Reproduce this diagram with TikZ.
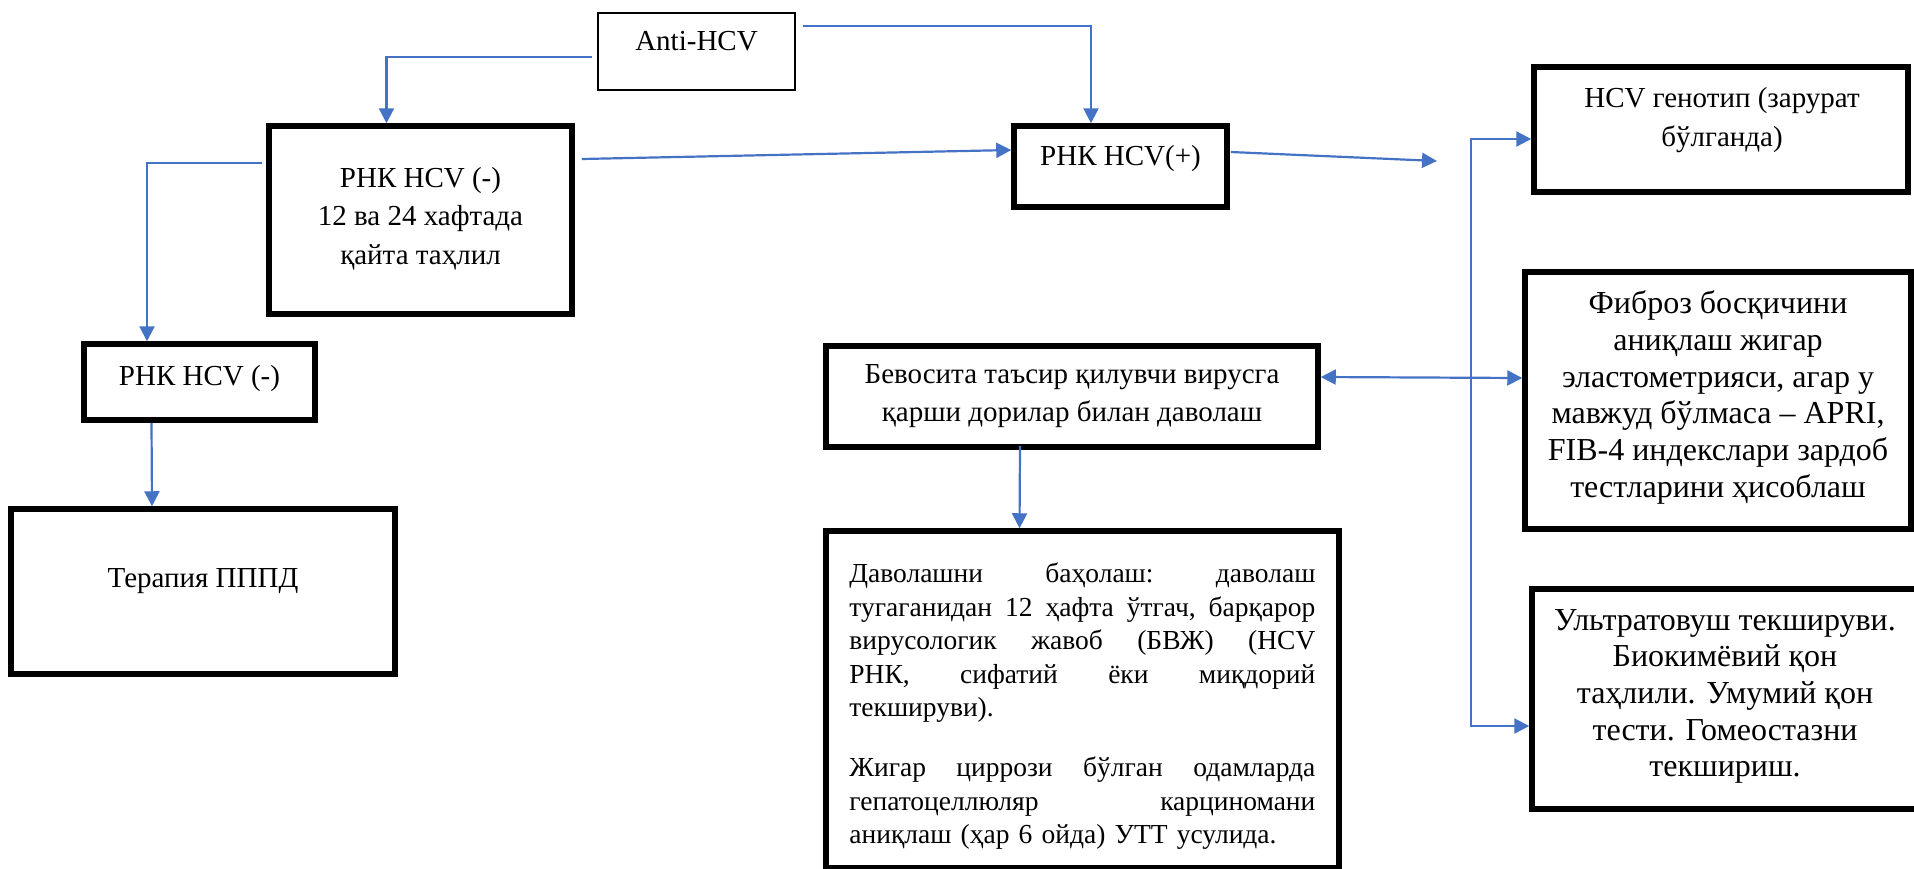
\documentclass[tikz,border=0pt]{standalone}
\usepackage{fontspec}
\setmainfont{Liberation Serif}
\usetikzlibrary{arrows.meta,calc}
\definecolor{conblue}{HTML}{4472C4}
\tikzset{
  box/.style={draw=black, line width=2.75pt, rectangle, inner sep=0pt},
  thinbox/.style={draw=black, line width=1.3pt, rectangle, inner sep=0pt},
  conn/.style={draw=conblue, line width=1.1pt, -{Triangle[length=7.5pt,width=7.5pt]}},
  dconn/.style={draw=conblue, line width=1.1pt, {Triangle[length=7.5pt,width=7.5pt]}-{Triangle[length=7.5pt,width=7.5pt]}},
  lbl/.style={font=\fontsize{14.5}{19.25}\selectfont, align=center, inner sep=0pt},
  rlbl/.style={font=\fontsize{16}{18.35}\selectfont, align=center, inner sep=0pt},
}
\newcommand\jl[1]{\par\noindent\hbox to 233pt{#1}}
\newcommand\nl[1]{\par\noindent\hbox{#1}}
\begin{document}
\begin{tikzpicture}[x=0.5pt,y=-0.5pt]
\useasboundingbox (0,0) rectangle (1914,868);
\clip (0,0) rectangle (1914,868);
% boxes
\node[thinbox, minimum width=98.5pt, minimum height=38.5pt] (anti) at (696.5,51.5) {};
\node[box, minimum width=151.5pt, minimum height=94pt] (rneg) at (420.5,220) {};
\node[box, minimum width=106.5pt, minimum height=40.5pt] (rpos) at (1120.5,166.5) {};
\node[box, minimum width=115.5pt, minimum height=38pt] (rneg2) at (199.5,382) {};
\node[box, minimum width=192pt, minimum height=82.5pt] (ther) at (203,591.5) {};
\node[box, minimum width=187pt, minimum height=62.5pt] (geno) at (1721,129.5) {};
\node[box, minimum width=193pt, minimum height=128.5pt] (fib) at (1718,400.5) {};
\node[box, minimum width=196.5pt, minimum height=110pt] (ultra) at (1728.5,699) {};
\node[box, minimum width=246pt, minimum height=50.5pt] (bev) at (1072,396.5) {};
\node[box, minimum width=256.5pt, minimum height=168.5pt] (dav) at (1082.5,699.5) {};
% texts
\node[lbl, anchor=base] (antiT) at (696.5,50) {Anti-HCV};
\node[lbl] (rnegT) at (420.5,218.5) {РНК HCV (-)\\12 ва 24 хафтада\\қайта таҳлил};
\node[lbl, anchor=base] (rposT) at (1120.5,165) {РНК HCV(+)};
\node[lbl, anchor=base] (rneg2T) at (199.5,385) {РНК HCV (-)};
\node[lbl, anchor=base] (therT) at (203,587) {Терапия ПППД};
\node[lbl, font=\fontsize{14.5}{19.75}\selectfont] (genoT) at (1722,120.3) {HCV генотип (зарурат\\бўлганда)};
\node[lbl] (bevT) at (1072,396) {Бевосита таъсир қилувчи вирусга\\қарши дорилар билан даволаш};
\node[rlbl] (fibT) at (1718,397.5) {Фиброз босқичини\\аниқлаш жигар\\эластометрияси, агар у\\мавжуд бўлмаса – APRI,\\FIB-4 индекслари зардоб\\тестларини ҳисоблаш};
\node[rlbl] (ultraT) at (1725,696.5) {Ультратовуш текшируви.\\Биокимёвий қон\\таҳлили. Умумий қон\\тести. Гомеостазни\\текшириш.};
\node[inner sep=0pt, text width=233pt, anchor=north west, font=\fontsize{13.75}{16.75}\selectfont] (davT) at (849,549) {%
\jl{Даволашни\hfill баҳолаш:\hfill даволаш}%
\jl{тугаганидан\hfill 12\hfill ҳафта\hfill ўтгач,\hfill барқарор}%
\jl{вирусологик\hfill жавоб\hfill (БВЖ)\hfill (HCV}%
\jl{РНК,\hfill сифатий\hfill ёки\hfill миқдорий}%
\nl{текшируви).}\par\vspace{13.25pt}%
\jl{Жигар\hfill циррози\hfill бўлган\hfill одамларда}%
\jl{гепатоцеллюляр\hfill карциномани}%
\nl{аниқлаш (ҳар 6 ойда) УТТ усулида.}\par};
% connectors
\coordinate (hub) at (1437,161);
\coordinate (bus) at (1471,400);
\draw[conn] ($(anti.west)+(-5,5.5)$) -| ($(rneg.north)+(-34,0)$);
\draw[conn] ($(anti.east)+(7,-25.5)$) -| ($(rpos.north)+(-29.5,0)$);
\draw[conn] ($(rneg.east)+(7,-61)$) -- ($(rpos.west)+(0,-16.5)$);
\draw[conn] ($(rneg.west)+(-4,-57)$) -| ($(rneg2.north)+(-52.5,0)$);
\draw[conn] ($(rneg2.south)+(-48,0)$) -- ($(ther.north)+(-51,0)$);
\draw[conn] ($(rpos.east)+(1,-14.5)$) -- (hub);
\draw[dconn] ($(geno.west)+(0,9.5)$) -| (bus) |- ($(ultra.west)+(0,27)$);
\draw[dconn] ($(bev.east)+(0,-19.5)$) -- ($(fib.west)+(0,-22.5)$);
\draw[conn] ($(bev.south)+(-52,-4)$) -- ($(dav.north)+(-63,0)$);
\end{tikzpicture}
\end{document}
